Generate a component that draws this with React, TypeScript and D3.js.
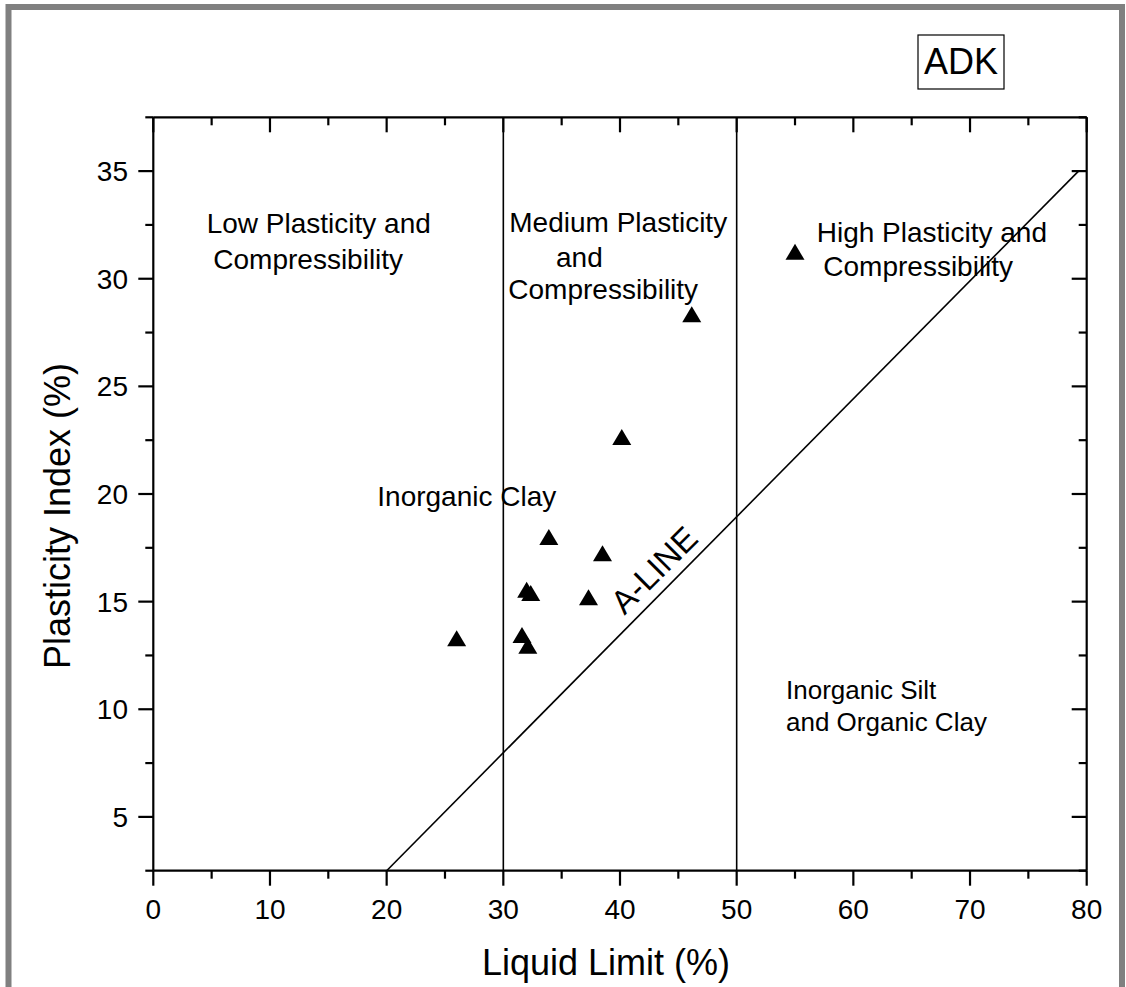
import React from "react";
import * as d3 from "d3";

// Atterberg limits of the ADK samples
const liquidLimit = [26.0, 31.6, 32.1, 32.0, 32.35, 33.9, 37.3, 38.5, 40.15, 46.15, 55.0];
const plasticityIndex = [13.3, 13.45, 12.95, 15.55, 15.4, 18.0, 15.2, 17.25, 22.65, 28.35, 31.25];

// Zone boundaries (liquid limit, %)
const zoneBounds = [30, 50];
// A-line end points [LL, PI]
const aLineLL = [20, 79.3];
const aLinePI = [2.5, 35];

const xMajor = [0, 10, 20, 30, 40, 50, 60, 70, 80];
const xMinor = [5, 15, 25, 35, 45, 55, 65, 75];
const yMajor = [5, 10, 15, 20, 25, 30, 35];
const yMinor = [2.5, 7.5, 12.5, 17.5, 22.5, 27.5, 32.5, 37.5];

const W = 1126;
const H = 987;
const FONT = "'Liberation Sans', Arial, Helvetica, sans-serif";

export default function App() {
  const x = d3.scaleLinear().domain([0, 80]).range([153.3, 1086.7]);
  const y = d3.scaleLinear().domain([2.5, 37.5]).range([870.7, 117.3]);
  const [x0, x1] = x.range();
  const [y0, y1] = y.range();

  const major = 15;
  const minor = 8;
  const tw = 19;
  const th = 16;
  const tri = `M0,${-th / 2}L${tw / 2},${th / 2}L${-tw / 2},${th / 2}Z`;

  const aLine = d3
    .line<number>()
    .x((_, i) => x(aLineLL[i]))
    .y((_, i) => y(aLinePI[i]))(aLineLL);

  return (
    <svg
      width={W}
      height={H}
      style={{ position: "absolute", left: 0, top: 0, background: "#fff" }}
      fontFamily={FONT}
    >
      <rect x={0} y={0} width={W} height={H} fill="#fff" />
      {/* outer page frame */}
      <rect x={8.5} y={7} width={1113.5} height={1100} fill="none" stroke="#808080" strokeWidth={6} />

      {/* title box */}
      <rect x={918} y={35} width={86} height={54} fill="none" stroke="#000" strokeWidth={1.2} />
      <text x={961} y={74.3} fontSize={36} textAnchor="middle">ADK</text>

      {/* zone boundaries */}
      {zoneBounds.map((v) => (
        <line key={v} x1={x(v)} x2={x(v)} y1={y0} y2={y1} stroke="#000" strokeWidth={1.6} />
      ))}
      <path d={aLine ?? ""} fill="none" stroke="#000" strokeWidth={1.6} />

      {/* zone labels */}
      <g fontSize={28} fill="#000">
        <text x={206.7} y={232.7}>Low Plasticity and</text>
        <text x={213.3} y={268.5}>Compressibility</text>
        <text x={509.3} y={231.7}>Medium Plasticity</text>
        <text x={556} y={266.7}>and</text>
        <text x={508.3} y={299}>Compressibility</text>
        <text x={816.7} y={241.7}>High Plasticity and</text>
        <text x={823.3} y={276.3}>Compressibility</text>
        <text x={377.3} y={505.7}>Inorganic Clay</text>
      </g>
      <g fontSize={26} fill="#000">
        <text x={786} y={699}>Inorganic Silt</text>
        <text x={786} y={731}>and Organic Clay</text>
      </g>
      <text
        x={654}
        y={570}
        fontSize={33}
        textAnchor="middle"
        dominantBaseline="central"
        transform="rotate(-45 654 570)"
      >
        A-LINE
      </text>

      {/* samples */}
      {liquidLimit.map((ll, i) => (
        <path key={i} d={tri} transform={`translate(${x(ll)},${y(plasticityIndex[i])})`} fill="#000" />
      ))}

      {/* axes frame */}
      <g stroke="#000" strokeWidth={2.2} fill="none">
        <line x1={x0} x2={x1} y1={y0} y2={y0} />
        <line x1={x0} x2={x1} y1={y1} y2={y1} />
        <line x1={x0} x2={x0} y1={y0} y2={y1} />
        <line x1={x1} x2={x1} y1={y0} y2={y1} />
        {xMajor.map((v) => (
          <g key={`xM${v}`}>
            <line x1={x(v)} x2={x(v)} y1={y0} y2={y0 + major} />
            <line x1={x(v)} x2={x(v)} y1={y1} y2={y1 + major} />
          </g>
        ))}
        {xMinor.map((v) => (
          <g key={`xm${v}`}>
            <line x1={x(v)} x2={x(v)} y1={y0} y2={y0 + minor} />
            <line x1={x(v)} x2={x(v)} y1={y1} y2={y1 + minor} />
          </g>
        ))}
        {yMajor.map((v) => (
          <g key={`yM${v}`}>
            <line x1={x0 - major} x2={x0} y1={y(v)} y2={y(v)} />
            <line x1={x1 - major} x2={x1} y1={y(v)} y2={y(v)} />
          </g>
        ))}
        {yMinor.map((v) => (
          <g key={`ym${v}`}>
            <line x1={x0 - minor} x2={x0} y1={y(v)} y2={y(v)} />
            <line x1={x1 - minor} x2={x1} y1={y(v)} y2={y(v)} />
          </g>
        ))}
      </g>

      {/* tick labels */}
      <g fontSize={28} fill="#000">
        {xMajor.map((v) => (
          <text key={`xl${v}`} x={x(v)} y={919} textAnchor="middle">
            {v}
          </text>
        ))}
        {yMajor.map((v) => (
          <text key={`yl${v}`} x={128} y={y(v) + 10} textAnchor="end">
            {v}
          </text>
        ))}
      </g>

      {/* axis titles */}
      <text x={606} y={975} fontSize={36} textAnchor="middle">
        Liquid Limit (%)
      </text>
      <text x={70} y={516} fontSize={36} textAnchor="middle" transform="rotate(-90 70 516)">
        Plasticity Index (%)
      </text>
    </svg>
  );
}
